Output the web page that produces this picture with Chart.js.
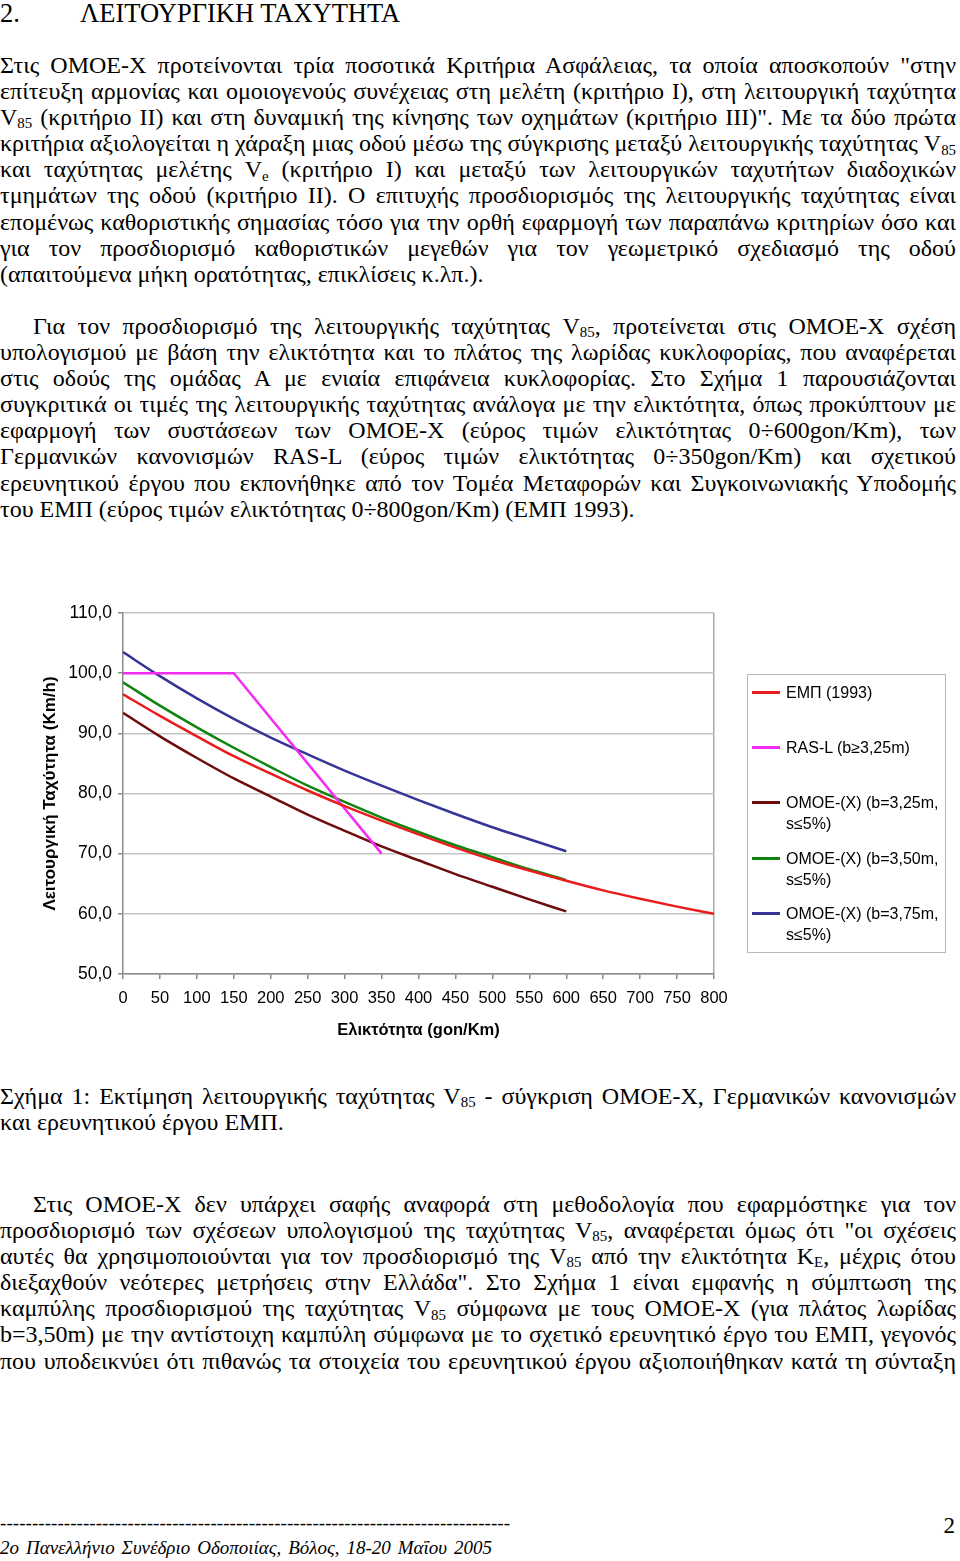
<!DOCTYPE html>
<html>
<head>
<meta charset="utf-8">
<script src="https://cdn.jsdelivr.net/npm/chart.js@4.4.0/dist/chart.umd.min.js"></script>
<style>
  body { margin: 0; background: #fff; }
  #page { position: relative; width: 960px; height: 1561px; overflow: hidden; background: #fff;
          font-family: "Liberation Serif", "Times New Roman", serif; font-size: 24px; color: #000; }
  .blk { position: absolute; left: 0; width: 960px; }
  .ln { height: 26.1px; line-height: 26.1px; white-space: nowrap; }
  .ind { padding-left: 33px; }
  .sb { font-size: 0.62em; position: relative; top: 0.22em; }
  #chartBox { position: absolute; left: 0; top: 590px; width: 960px; height: 460px; }
  #legend { position: absolute; left: 747px; top: 674px; width: 197px; height: 277px;
            border: 1px solid #b8b8b8; }
  .lg { position: absolute; font-family: "Liberation Sans", Arial, sans-serif; font-size: 16px;
        line-height: 21px; white-space: nowrap; }
  .sw { position: absolute; width: 28px; height: 3px; }
  #footer { font-size: 19px; }
</style>
</head>
<body>
<div id="page">
  <div class="blk ln" style="top:0;font-size:26.5px">2.<span style="position:absolute;left:80px">ΛΕΙΤΟΥΡΓΙΚΗ ΤΑΧΥΤΗΤΑ</span></div>

  <div class="blk" style="top:52px">
    <div class="ln j"><span>Στις ΟΜΟΕ-Χ προτείνονται τρία ποσοτικά Κριτήρια Ασφάλειας, τα οποία αποσκοπούν "στην</span></div>
    <div class="ln j"><span>επίτευξη αρμονίας και ομοιογενούς συνέχειας στη μελέτη (κριτήριο Ι), στη λειτουργική ταχύτητα</span></div>
    <div class="ln j"><span>V<span class="sb">85</span> (κριτήριο ΙΙ) και στη δυναμική της κίνησης των οχημάτων (κριτήριο ΙΙΙ)". Με τα δύο πρώτα</span></div>
    <div class="ln j"><span>κριτήρια αξιολογείται η χάραξη μιας οδού μέσω της σύγκρισης μεταξύ λειτουργικής ταχύτητας V<span class="sb">85</span></span></div>
    <div class="ln j"><span>και ταχύτητας μελέτης V<span class="sb">e</span> (κριτήριο Ι) και μεταξύ των λειτουργικών ταχυτήτων διαδοχικών</span></div>
    <div class="ln j"><span>τμημάτων της οδού (κριτήριο ΙΙ). Ο επιτυχής προσδιορισμός της λειτουργικής ταχύτητας είναι</span></div>
    <div class="ln j"><span>επομένως καθοριστικής σημασίας τόσο για την ορθή εφαρμογή των παραπάνω κριτηρίων όσο και</span></div>
    <div class="ln j"><span>για τον προσδιορισμό καθοριστικών μεγεθών για τον γεωμετρικό σχεδιασμό της οδού</span></div>
    <div class="ln"><span>(απαιτούμενα μήκη ορατότητας, επικλίσεις κ.λπ.).</span></div>
  </div>

  <div class="blk" style="top:313px">
    <div class="ln j ind"><span>Για τον προσδιορισμό της λειτουργικής ταχύτητας V<span class="sb">85</span>, προτείνεται στις ΟΜΟΕ-Χ σχέση</span></div>
    <div class="ln j"><span>υπολογισμού με βάση την ελικτότητα και το πλάτος της λωρίδας κυκλοφορίας, που αναφέρεται</span></div>
    <div class="ln j"><span>στις οδούς της ομάδας Α με ενιαία επιφάνεια κυκλοφορίας. Στο Σχήμα 1 παρουσιάζονται</span></div>
    <div class="ln j"><span>συγκριτικά οι τιμές της λειτουργικής ταχύτητας ανάλογα με την ελικτότητα, όπως προκύπτουν με</span></div>
    <div class="ln j"><span>εφαρμογή των συστάσεων των ΟΜΟΕ-Χ (εύρος τιμών ελικτότητας 0÷600gon/Km), των</span></div>
    <div class="ln j"><span>Γερμανικών κανονισμών RAS-L (εύρος τιμών ελικτότητας 0÷350gon/Km) και σχετικού</span></div>
    <div class="ln j"><span>ερευνητικού έργου που εκπονήθηκε από τον Τομέα Μεταφορών και Συγκοινωνιακής Υποδομής</span></div>
    <div class="ln"><span>του ΕΜΠ (εύρος τιμών ελικτότητας 0÷800gon/Km) (ΕΜΠ 1993).</span></div>
  </div>

  <div id="chartBox"><canvas id="v85Chart" width="960" height="460"></canvas></div>
  <div id="legend"></div>

  <div class="blk" style="top:1083px">
    <div class="ln j"><span>Σχήμα 1: Εκτίμηση λειτουργικής ταχύτητας V<span class="sb">85</span> - σύγκριση ΟΜΟΕ-Χ, Γερμανικών κανονισμών</span></div>
    <div class="ln"><span>και ερευνητικού έργου ΕΜΠ.</span></div>
  </div>

  <div class="blk" style="top:1191px">
    <div class="ln j ind"><span>Στις ΟΜΟΕ-Χ δεν υπάρχει σαφής αναφορά στη μεθοδολογία που εφαρμόστηκε για τον</span></div>
    <div class="ln j"><span>προσδιορισμό των σχέσεων υπολογισμού της ταχύτητας V<span class="sb">85</span>, αναφέρεται όμως ότι "οι σχέσεις</span></div>
    <div class="ln j"><span>αυτές θα χρησιμοποιούνται για τον προσδιορισμό της V<span class="sb">85</span> από την ελικτότητα K<span class="sb">E</span>, μέχρις ότου</span></div>
    <div class="ln j"><span>διεξαχθούν νεότερες μετρήσεις στην Ελλάδα". Στο Σχήμα 1 είναι εμφανής η σύμπτωση της</span></div>
    <div class="ln j"><span>καμπύλης προσδιορισμού της ταχύτητας V<span class="sb">85</span> σύμφωνα με τους ΟΜΟΕ-Χ (για πλάτος λωρίδας</span></div>
    <div class="ln j"><span>b=3,50m) με την αντίστοιχη καμπύλη σύμφωνα με το σχετικό ερευνητικό έργο του ΕΜΠ, γεγονός</span></div>
    <div class="ln j"><span>που υποδεικνύει ότι πιθανώς τα στοιχεία του ερευνητικού έργου αξιοποιήθηκαν κατά τη σύνταξη</span></div>
  </div>

  <div id="footer">
    <div class="blk ln" style="top:1510px"><span id="dashes">--------------------------------------------------------------------------------</span></div>
    <div class="blk ln" style="top:1513px;font-size:23px;text-align:right;width:955px">2</div>
    <div class="blk ln" style="top:1535px;font-style:italic"><span id="conf">2ο Πανελλήνιο Συνέδριο Οδοποιίας, Βόλος, 18-20 Μαΐου 2005</span></div>
  </div>
</div>

<script>
// Ελικτότητα (gon/Km) και V85 (Km/h) όπως διαβάζονται από το σχήμα
const kappa = [0, 50, 100, 150, 200, 250, 300, 350, 400, 450, 500, 550, 600, 650, 700, 750, 800];
const empV85 = [96.5, 92.9, 89.5, 86.2, 83.3, 80.5, 77.9, 75.5, 73.2, 71.0, 69.0, 67.2, 65.5, 63.9, 62.5, 61.2, 60.0];
const rasKappa = [0, 150, 350];
const rasV85 = [100, 100, 70];
const omoe325 = [93.4, 89.5, 85.9, 82.5, 79.5, 76.5, 73.8, 71.2, 68.9, 66.6, 64.5, 62.4, 60.4];
const omoe350 = [98.5, 94.6, 91.0, 87.6, 84.4, 81.3, 78.6, 76.0, 73.6, 71.4, 69.4, 67.4, 65.6];
const omoe375 = [103.5, 99.5, 95.8, 92.4, 89.3, 86.5, 83.8, 81.3, 78.9, 76.6, 74.4, 72.4, 70.4];
const yTicks = [50, 60, 70, 80, 90, 100, 110];

const seriesNames = [["ΕΜΠ (1993)"], ["RAS-L (b≥3,25m)"], ["ΟΜΟΕ-(Χ) (b=3,25m,", "s≤5%)"],
  ["ΟΜΟΕ-(Χ) (b=3,50m,", "s≤5%)"], ["ΟΜΟΕ-(Χ) (b=3,75m,", "s≤5%)"]];
const seriesColors = ["#e81c1c", "#f22cf2", "#6e0b0b", "#0e840e", "#353596"];

function pts(xs, ys) {
  return ys.map((y, i) => ({ x: xs[i], y: y }));
}

// justification ligne par ligne
function spread(span, width) {
  const w = span.getBoundingClientRect().width;
  const n = (span.textContent.match(/ /g) || []).length;
  if (n) span.style.wordSpacing = ((width - w) / n) + "px";
}
document.querySelectorAll(".j").forEach(el => {
  const span = el.firstElementChild;
  spread(span, el.classList.contains("ind") ? 956 - 33 : 956);
});
(function () {
  const d = document.getElementById("dashes");
  const w = d.getBoundingClientRect().width;
  d.style.letterSpacing = ((510 - w) / d.textContent.length) + "px";
  spread(document.getElementById("conf"), 492);
})();

// légende
const legend = document.getElementById("legend");
const rowsY = [692, 747, 802, 858, 913];
seriesNames.forEach((lines, i) => {
  const sw = document.createElement("div");
  sw.className = "sw";
  sw.style.background = seriesColors[i];
  sw.style.left = (752 - 748) + "px";
  sw.style.top = (rowsY[i] - 675 - 1.5) + "px";
  legend.appendChild(sw);
  const t = document.createElement("div");
  t.className = "lg";
  t.style.left = (786 - 748) + "px";
  t.style.top = (rowsY[i] - 675 - 10.5) + "px";
  t.innerHTML = lines.join("<br>");
  legend.appendChild(t);
});

const fontSans = "'Liberation Sans', Arial, sans-serif";
const common = { pointRadius: 0, borderWidth: 2.5, fill: false, cubicInterpolationMode: "monotone" };

new Chart(document.getElementById("v85Chart").getContext("2d"), {
  type: "line",
  data: {
    datasets: [
      Object.assign({ label: seriesNames[0].join(" "), data: pts(kappa, empV85), borderColor: seriesColors[0] }, common),
      Object.assign({}, common, { label: seriesNames[1].join(" "), data: pts(rasKappa, rasV85), borderColor: seriesColors[1], cubicInterpolationMode: "default", tension: 0 }),
      Object.assign({ label: seriesNames[2].join(" "), data: pts(kappa, omoe325), borderColor: seriesColors[2] }, common),
      Object.assign({ label: seriesNames[3].join(" "), data: pts(kappa, omoe350), borderColor: seriesColors[3] }, common),
      Object.assign({ label: seriesNames[4].join(" "), data: pts(kappa, omoe375), borderColor: seriesColors[4] }, common)
    ]
  },
  options: {
    responsive: false,
    animation: false,
    devicePixelRatio: 1,
    layout: { padding: { top: 23, right: 246, bottom: 0, left: 0 } },
    plugins: { legend: { display: false }, tooltip: { enabled: false } },
    scales: {
      x: {
        type: "linear", min: 0, max: 800,
        ticks: { stepSize: 50, color: "#000", font: { family: fontSans, size: 16.5 }, padding: 10, maxRotation: 0, autoSkip: false },
        grid: {
          color: ctx => ctx.tick && ctx.tick.value === 800 ? "#a8a8a8" : "rgba(0,0,0,0)",
          tickColor: "#8a8a8a", tickLength: 5, lineWidth: 1.5
        },
        border: { color: "#8a8a8a", width: 1.5 },
        title: { display: true, text: "Ελικτότητα (gon/Km)", color: "#000",
                 font: { family: fontSans, size: 16.5, weight: "bold" }, padding: { top: 0, bottom: 10 } },
        afterFit: s => { s.height = 76; }
      },
      y: {
        min: 50, max: 110,
        afterBuildTicks: s => { s.ticks = yTicks.map(v => ({ value: v })); },
        ticks: { color: "#000", font: { family: fontSans, size: 17.5 }, padding: 6,
                 callback: v => v.toFixed(1).replace(".", ",") },
        grid: { color: "#c4c4c4", tickColor: "#8a8a8a", tickLength: 5, lineWidth: 1.5 },
        border: { color: "#8a8a8a", width: 1.5 },
        title: { display: true, text: "Λειτουργική Ταχύτητα (Km/h)", color: "#000",
                 font: { family: fontSans, size: 17, weight: "bold" }, padding: { top: 40, bottom: 0 } },
        afterFit: s => { s.width = 123; }
      }
    }
  }
});
</script>
</body>
</html>
